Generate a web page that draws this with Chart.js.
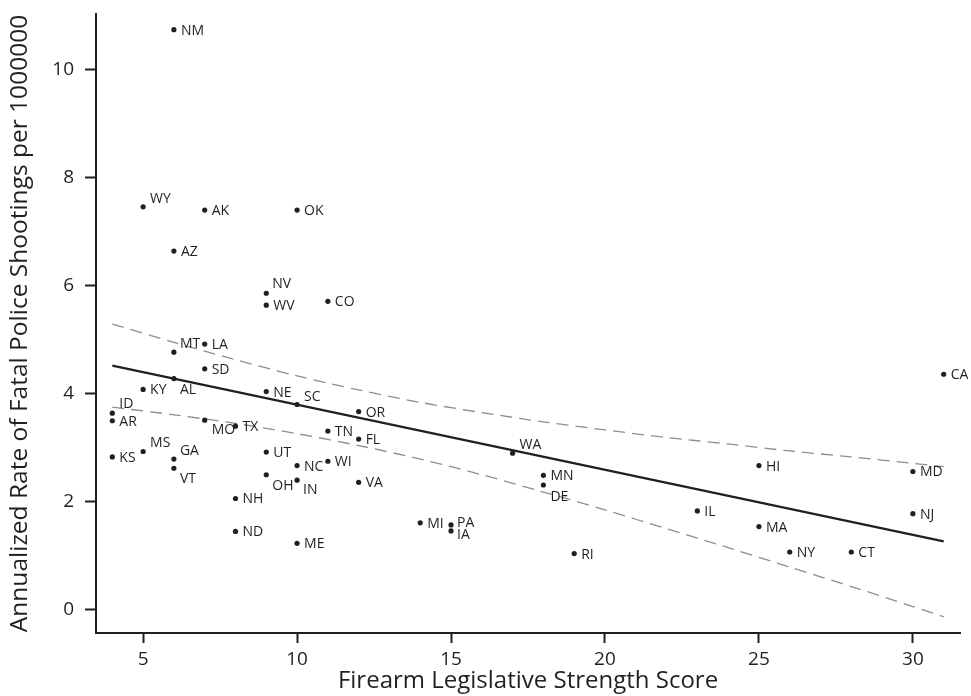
<!DOCTYPE html>
<html><head><meta charset="utf-8">
<script src="https://cdn.jsdelivr.net/npm/chart.js@4.4.1/dist/chart.umd.min.js"></script>
<style>html,body{margin:0;padding:0;background:#fff;}</style>
</head><body>
<canvas id="c" width="971" height="696"></canvas>
<script>
// ---- data ----
const states = ["NM","WY","AK","OK","AZ","NV","WV","CO","MT","LA","SD","AL","KY","NE","SC","OR","ID","AR","MO","TX","TN","FL","WA","UT","MS","KS","GA","NC","WI","HI","VT","MD","OH","MN","IN","DE","VA","NH","IL","NJ","MI","PA","MA","IA","ND","ME","NY","RI","CT","CA"];
const scores = [6,5,7,10,6,9,9,11,6,7,7,6,5,9,10,12,4,4,7,8,11,12,17,9,5,4,6,10,11,25,6,30,9,18,10,18,12,8,23,30,14,15,25,15,8,10,26,19,28,31];
const rates = [10.74,7.46,7.40,7.40,6.64,5.86,5.64,5.71,4.77,4.92,4.46,4.28,4.08,4.04,3.80,3.67,3.64,3.50,3.51,3.40,3.31,3.16,2.90,2.92,2.93,2.83,2.79,2.67,2.75,2.67,2.62,2.56,2.50,2.49,2.40,2.31,2.36,2.06,1.83,1.78,1.61,1.57,1.54,1.46,1.45,1.23,1.07,1.04,1.07,4.36];
const fitX = [4, 31];
const fitY = [4.52, 1.265];
const ciX = [4,6,8,10,12,14,16,18,20,22,24,26,28,30,31];
const ciUpper = [5.29,4.95,4.63,4.33,4.07,3.84,3.65,3.48,3.33,3.19,3.07,2.94,2.83,2.71,2.65];
const ciLower = [3.75,3.61,3.45,3.26,3.04,2.79,2.50,2.18,1.85,1.50,1.15,0.79,0.43,0.06,-0.13];
const xTicks = [5,10,15,20,25,30];
const yTicks = [0,2,4,6,8,10];
const xTitle = "Firearm Legislative Strength Score";
const yTitle = "Annualized Rate of Fatal Police Shootings per 1000000";

// ---- label placement (layout only) ----
const labelOffsets = {WY:[7,-8], NV:[6,-9], MT:[6,-8], AL:[6,11], SC:[7,-8], ID:[7,-9], MO:[7,10], WA:[7,-8], MS:[7,-8], GA:[6,-8], VT:[6,11], OH:[6,11], IN:[6,10], DE:[7,12], PA:[6,-2], IA:[6,4]};
const defaultOffset = [7,1];

const ink = '#231f20';
const labelPlugin = {
  id: 'stateLabels',
  afterDatasetsDraw(chart) {
    const meta = chart.getDatasetMeta(0);
    const ctx = chart.ctx;
    ctx.save();
    ctx.font = '14px "Open Sans"';
    ctx.fillStyle = ink;
    ctx.textAlign = 'left';
    ctx.textBaseline = 'middle';
    meta.data.forEach((pt, i) => {
      const o = labelOffsets[states[i]] || defaultOffset;
      ctx.fillText(states[i], pt.x + o[0], pt.y + o[1]);
    });
    ctx.restore();
  }
};

const ctx = document.getElementById('c').getContext('2d');
new Chart(ctx, {
  type: 'scatter',
  data: {
    datasets: [
      { label: 'States', data: scores.map((x, i) => ({x: x, y: rates[i]})), pointRadius: 2.6, pointBackgroundColor: ink, pointBorderWidth: 0, showLine: false },
      { label: 'Fit', type: 'line', data: fitX.map((x, i) => ({x: x, y: fitY[i]})), borderColor: ink, borderWidth: 2.2, pointRadius: 0, fill: false, tension: 0 },
      { label: 'Upper', type: 'line', data: ciX.map((x, i) => ({x: x, y: ciUpper[i]})), borderColor: '#8e8e8e', borderWidth: 1.3, borderDash: [12, 7], pointRadius: 0, fill: false, tension: 0.3 },
      { label: 'Lower', type: 'line', data: ciX.map((x, i) => ({x: x, y: ciLower[i]})), borderColor: '#8e8e8e', borderWidth: 1.3, borderDash: [12, 7], pointRadius: 0, fill: false, tension: 0.3 }
    ]
  },
  options: {
    responsive: false,
    animation: false,
    devicePixelRatio: 1,
    layout: { padding: { top: 14, right: 11, left: 0, bottom: 0 } },
    plugins: { legend: { display: false }, tooltip: { enabled: false } },
    scales: {
      x: {
        type: 'linear', min: 3.47, max: 31.53,
        afterBuildTicks: s => { s.ticks = xTicks.map(v => ({value: v})); },
        afterFit: s => { s.height = 63; s.paddingLeft = 0; s.paddingRight = 0; },
        grid: { display: true, drawOnChartArea: false, drawTicks: true, tickLength: 10, tickColor: ink, tickWidth: 2 },
        border: { display: true, color: ink, width: 2 },
        ticks: { font: { family: 'Open Sans', size: 19 }, color: ink, padding: 5, maxRotation: 0, autoSkip: false },
        title: { display: true, text: xTitle, font: { family: 'Open Sans', size: 24 }, color: ink, padding: 0 }
      },
      y: {
        type: 'linear', min: -0.43, max: 11.03,
        afterBuildTicks: s => { s.ticks = yTicks.map(v => ({value: v})); },
        afterFit: s => { s.width = 96; s.paddingTop = 0; s.paddingBottom = 0; },
        grid: { display: true, drawOnChartArea: false, drawTicks: true, tickLength: 11, tickColor: ink, tickWidth: 2 },
        border: { display: true, color: ink, width: 2 },
        ticks: { font: { family: 'Open Sans', size: 19 }, color: ink, padding: 11, autoSkip: false },
        title: { display: true, text: yTitle, font: { family: 'Open Sans', size: 24.5 }, color: ink, padding: { top: 5, bottom: 0 } }
      }
    }
  },
  plugins: [labelPlugin]
});
</script>
</body></html>
